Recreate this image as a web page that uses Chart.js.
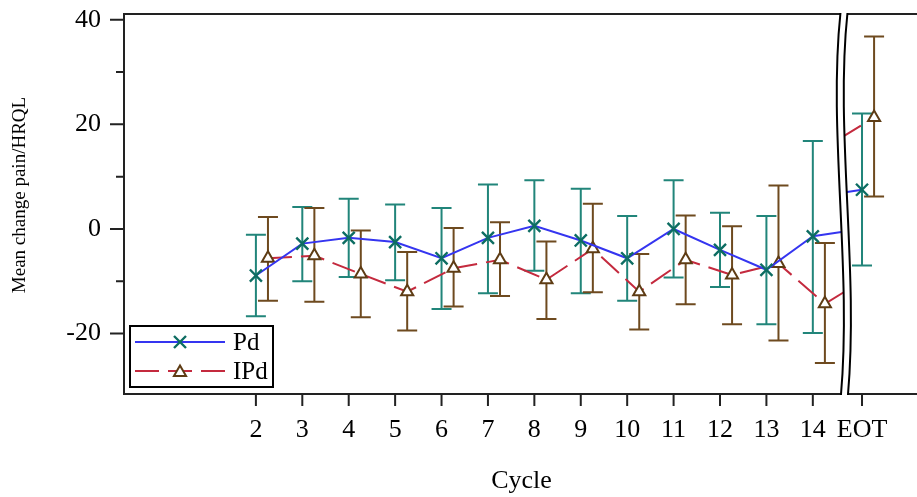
<!DOCTYPE html>
<html><head><meta charset="utf-8">
<script src="https://cdn.jsdelivr.net/npm/chart.js@4/dist/chart.umd.min.js"></script>
<style>html,body{margin:0;padding:0;overflow:hidden;background:#fff}canvas{display:block}</style>
</head><body>
<canvas id="c" width="930" height="497"></canvas>
<script>
// ---- data ----
const cycles = ['2','3','4','5','6','7','8','9','10','11','12','13','14','EOT'];
const pdMean  = [-8.9, -2.8, -1.7, -2.5, -5.6, -1.7, 0.6, -2.2, -5.6, 0.0, -4.0, -7.8, -1.4, 7.5];
const pdUpper = [-1.1, 4.2, 5.8, 4.7, 4.0, 8.5, 9.3, 7.7, 2.5, 9.3, 3.1, 2.5, 16.8, 22.1];
const pdLower = [-16.7, -10.0, -9.2, -9.8, -15.3, -12.3, -8.0, -12.3, -13.7, -9.3, -11.1, -18.2, -19.9, -7.0];
const ipdMean  = [-5.6, -5.1, -8.6, -12.0, -7.5, -5.9, -9.7, -3.8, -12.0, -5.9, -8.8, -6.6, -14.3, 21.3];
const ipdUpper = [2.3, 4.0, -0.3, -4.4, 0.2, 1.3, -2.4, 4.8, -4.8, 2.6, 0.5, 8.3, -2.7, 36.8];
const ipdLower = [-13.7, -13.9, -16.9, -19.4, -14.8, -12.8, -17.2, -12.1, -19.2, -14.4, -18.2, -21.3, -25.6, 6.2];
const yMajorTicks = [-20, 0, 20, 40];
const yMinorTicks = [-10, 10, 30];
const yTitle = 'Mean change pain/HRQL';
const xTitle = 'Cycle';

// ---- layout constants ----
const EOT_POS = 15.06;      // displayed position of EOT after the axis break
const EOT_SHIFT = 5.5;      // hidden span removed by the axis break
const BREAK_POS = 14.66;
const IPD_OFFSET = 0.26;
const FONT = "'Liberation Serif', 'Times New Roman', serif";
const xPos = cycles.map(c => c === 'EOT' ? EOT_POS : Number(c));
const last = cycles.length - 1;

const series = [
  {mean: pdMean, lo: pdLower, hi: pdUpper, off: 0, line: '#3535f0', bar: '#21857a', mark: '#0d6d62', dash: []},
  {mean: ipdMean, lo: ipdLower, hi: ipdUpper, off: IPD_OFFSET, line: '#c42a3e', bar: '#6e4a1f', mark: '#5e3c14', dash: [24, 9]}
];

const hideBreakSeg = {borderColor: ctx => ctx.p1DataIndex === last ? 'rgba(0,0,0,0)' : undefined};

const errorBars = {
  id: 'errorBars',
  beforeDatasetsDraw(chart) {
    const {ctx, scales: {x, y}} = chart;
    ctx.save();
    ctx.lineWidth = 2;
    series.forEach(s => {
      // connector across the break (hidden segment of the line)
      const x0 = x.getPixelForValue(xPos[last - 1] + s.off), y0 = y.getPixelForValue(s.mean[last - 1]);
      const shiftPx = x.getPixelForValue(EOT_POS + EOT_SHIFT) - x.getPixelForValue(EOT_POS);
      const x1 = x.getPixelForValue(xPos[last] + s.off), y1 = y.getPixelForValue(s.mean[last]);
      const x1v = x1 + shiftPx;
      const yAt = xv => y0 + (y1 - y0) * (xv - x0) / (x1v - x0);
      const bx = x.getPixelForValue(BREAK_POS);
      ctx.strokeStyle = s.line;
      ctx.setLineDash(s.dash);
      ctx.beginPath();
      ctx.moveTo(x0, y0); ctx.lineTo(bx + 3, yAt(bx + 3));
      ctx.stroke();
      ctx.beginPath();
      ctx.moveTo(bx - 3, yAt(bx - 3 + shiftPx)); ctx.lineTo(x1, y1);
      ctx.stroke();
      ctx.setLineDash([]);
      // error bars
      ctx.strokeStyle = s.bar;
      for (let i = 0; i < cycles.length; i++) {
        const px = x.getPixelForValue(xPos[i] + s.off);
        const ph = y.getPixelForValue(s.hi[i]), pl = y.getPixelForValue(s.lo[i]);
        ctx.beginPath();
        ctx.moveTo(px, ph); ctx.lineTo(px, pl);
        ctx.moveTo(px - 10, ph); ctx.lineTo(px + 10, ph);
        ctx.moveTo(px - 10, pl); ctx.lineTo(px + 10, pl);
        ctx.stroke();
      }
    });
    ctx.restore();
  }
};

function drawX(ctx, cx, cy, r, color) {
  ctx.save(); ctx.strokeStyle = color; ctx.lineWidth = 2.4;
  ctx.beginPath();
  ctx.moveTo(cx - r, cy - r); ctx.lineTo(cx + r, cy + r);
  ctx.moveTo(cx - r, cy + r); ctx.lineTo(cx + r, cy - r);
  ctx.stroke(); ctx.restore();
}
function drawTri(ctx, cx, cy, r, color) {
  ctx.save(); ctx.strokeStyle = color; ctx.fillStyle = '#fff'; ctx.lineWidth = 2;
  ctx.beginPath();
  for (let k = 0; k < 3; k++) {
    const a = k * 2 * Math.PI / 3;
    const px = cx + Math.sin(a) * r, py = cy - Math.cos(a) * r;
    k ? ctx.lineTo(px, py) : ctx.moveTo(px, py);
  }
  ctx.closePath(); ctx.fill(); ctx.stroke(); ctx.restore();
}

const decor = {
  id: 'decor',
  afterDraw(chart) {
    const {ctx, chartArea: a, scales: {x, y}} = chart;
    ctx.save();
    ctx.strokeStyle = '#222'; ctx.lineWidth = 2;
    // top frame
    ctx.beginPath(); ctx.moveTo(a.left - 1, a.top); ctx.lineTo(a.right, a.top); ctx.stroke();
    // y tick marks
    ctx.beginPath();
    yMajorTicks.forEach(v => { const p = y.getPixelForValue(v); ctx.moveTo(a.left - 14, p); ctx.lineTo(a.left, p); });
    yMinorTicks.forEach(v => { const p = y.getPixelForValue(v); ctx.moveTo(a.left - 8, p); ctx.lineTo(a.left, p); });
    // x tick marks
    xPos.forEach(v => { const p = x.getPixelForValue(v); ctx.moveTo(p, a.bottom); ctx.lineTo(p, a.bottom + 12); });
    ctx.stroke();
    // axis break
    const bx = x.getPixelForValue(BREAK_POS) - 3;
    const t = a.top - 1, b = a.bottom + 1, h = b - t;
    const curve = (dx, rev) => {
      const P = [[bx + dx, t], [bx - 12.5 + dx, t + h * 0.31], [bx + 11.5 + dx, t + h * 0.67], [bx + 0.5 + dx, b]];
      return rev ? P.slice().reverse() : P;
    };
    const L = curve(0, false), R = curve(7, true);
    ctx.fillStyle = '#fff';
    ctx.beginPath();
    ctx.moveTo(L[0][0], L[0][1]); ctx.bezierCurveTo(L[1][0], L[1][1], L[2][0], L[2][1], L[3][0], L[3][1]);
    ctx.lineTo(R[0][0], R[0][1]); ctx.bezierCurveTo(R[1][0], R[1][1], R[2][0], R[2][1], R[3][0], R[3][1]);
    ctx.closePath(); ctx.fill();
    ctx.strokeStyle = '#000'; ctx.lineWidth = 2;
    ctx.beginPath();
    ctx.moveTo(L[0][0], L[0][1]); ctx.bezierCurveTo(L[1][0], L[1][1], L[2][0], L[2][1], L[3][0], L[3][1]);
    ctx.moveTo(R[0][0], R[0][1]); ctx.bezierCurveTo(R[1][0], R[1][1], R[2][0], R[2][1], R[3][0], R[3][1]);
    ctx.stroke();
    // y-axis title
    ctx.save();
    ctx.translate(20, (a.top + a.bottom) / 2 - 9);
    ctx.rotate(-Math.PI / 2);
    ctx.fillStyle = '#000'; ctx.font = '19px ' + FONT; ctx.textAlign = 'center'; ctx.textBaseline = 'middle';
    ctx.fillText(yTitle, 0, 0);
    ctx.restore();
    // legend
    const lx = a.left + 6, ly = a.bottom - 68;
    ctx.fillStyle = '#fff'; ctx.fillRect(lx, ly, 143, 61);
    ctx.strokeStyle = '#000'; ctx.lineWidth = 2; ctx.strokeRect(lx, ly, 143, 61);
    const r1 = ly + 16, r2 = ly + 45;
    ctx.lineWidth = 2;
    ctx.strokeStyle = series[0].line;
    ctx.beginPath(); ctx.moveTo(lx + 5, r1); ctx.lineTo(lx + 95, r1); ctx.stroke();
    drawX(ctx, lx + 50, r1, 6, series[0].mark);
    ctx.strokeStyle = series[1].line; ctx.setLineDash(series[1].dash);
    ctx.beginPath(); ctx.moveTo(lx + 5, r2); ctx.lineTo(lx + 95, r2); ctx.stroke();
    ctx.setLineDash([]);
    drawTri(ctx, lx + 50, r2 + 1.5, 7, series[1].mark);
    ctx.fillStyle = '#000'; ctx.font = '25px ' + FONT; ctx.textBaseline = 'middle'; ctx.textAlign = 'left';
    ctx.fillText(chart.data.datasets[0].label, lx + 103, r1 + 1);
    ctx.fillText(chart.data.datasets[1].label, lx + 103, r2 + 1);
    ctx.restore();
  }
};

new Chart(document.getElementById('c'), {
  type: 'line',
  data: {
    datasets: [
      {label: 'Pd', data: xPos.map((v, i) => ({x: v, y: pdMean[i]})),
       borderColor: series[0].line, borderWidth: 2, pointStyle: 'crossRot', pointRadius: 8.5,
       pointBorderColor: series[0].mark, pointBorderWidth: 2.4, pointBackgroundColor: 'rgba(0,0,0,0)',
       segment: hideBreakSeg, tension: 0},
      {label: 'IPd', data: xPos.map((v, i) => ({x: v + IPD_OFFSET, y: ipdMean[i]})),
       borderColor: series[1].line, borderWidth: 2, borderDash: series[1].dash, pointStyle: 'triangle', pointRadius: 7,
       pointBorderColor: series[1].mark, pointBorderWidth: 2, pointBackgroundColor: '#fff',
       segment: hideBreakSeg, tension: 0}
    ]
  },
  options: {
    responsive: false, animation: false, devicePixelRatio: 1,
    layout: {padding: {top: 14, right: 4, left: 0, bottom: 0}},
    plugins: {legend: {display: false}, tooltip: {enabled: false}},
    events: [],
    scales: {
      x: {
        type: 'linear', min: -0.842, max: 16.29,
        grid: {display: false, drawTicks: false},
        border: {display: true, color: '#222', width: 2},
        afterBuildTicks: s => { s.ticks = xPos.map(v => ({value: v})); },
        afterFit: s => { s.height = 103; s.paddingLeft = 0; s.paddingRight = 0; },
        ticks: {
          autoSkip: false, maxRotation: 0, padding: 21, color: '#000',
          font: {family: FONT, size: 26},
          callback: v => { const i = xPos.indexOf(v); return i >= 0 ? cycles[i] : ''; }
        },
        title: {display: true, text: xTitle, color: '#000', font: {family: FONT, size: 26}, padding: {top: 0, bottom: 0}}
      },
      y: {
        min: -31.55, max: 41.1,
        grid: {display: false, drawTicks: false},
        border: {display: true, color: '#222', width: 2},
        afterBuildTicks: s => { s.ticks = yMajorTicks.map(v => ({value: v})); },
        afterFit: s => { s.width = 124; s.paddingTop = 0; s.paddingBottom = 0; },
        ticks: {padding: 23, color: '#000', font: {family: FONT, size: 26}},
        title: {display: false, text: yTitle}
      }
    }
  },
  plugins: [errorBars, decor]
});
</script>
</body></html>
